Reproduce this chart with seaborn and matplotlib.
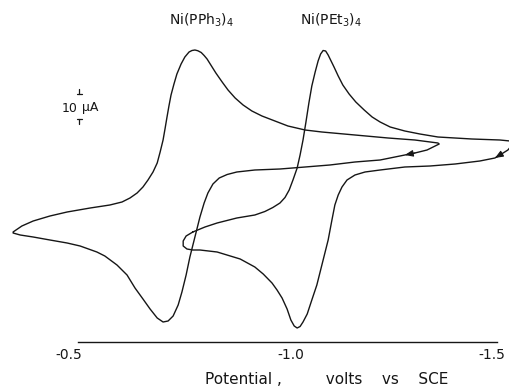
import pandas as pd
import matplotlib
matplotlib.use("Agg")
import matplotlib.pyplot as plt
from matplotlib.transforms import ScaledTranslation
import seaborn as sns

# ---- Ni(PPh3)4 : sweep toward negative potential, then return sweep ----
pph3_fwd_E = [-0.345, -0.366, -0.393, -0.433, -0.474, -0.529, -0.576, -0.605,
              -0.624, -0.641, -0.655, -0.667, -0.679, -0.689, -0.696, -0.703,
              -0.708, -0.712, -0.717, -0.722, -0.729, -0.736, -0.746, -0.755,
              -0.765, -0.772, -0.779, -0.786, -0.794, -0.801, -0.808, -0.817,
              -0.829, -0.844, -0.858, -0.875, -0.894, -0.915, -0.939, -0.970,
              -1.001, -1.042, -1.082, -1.161, -1.240, -1.304, -1.359]
pph3_fwd_i = [-12.8, -10.4, -8.4, -6.4, -4.8, -3.2, -2.0, -0.8,
              0.8, 2.8, 5.2, 8.0, 11.2, 14.8, 19.2, 24.0,
              28.8, 32.8, 37.6, 42.0, 46.4, 50.4, 54.4, 57.2,
              59.2, 59.8, 60.0, 59.7, 59.0, 57.8, 56.4, 54.0,
              50.8, 47.2, 44.0, 40.8, 38.0, 35.6, 33.6, 31.6,
              29.6, 28.0, 27.2, 26.0, 24.8, 24.0, 22.8]
pph3_rev_E = [-1.362, -1.333, -1.304, -1.280, -1.221, -1.161, -1.101, -1.042,
              -0.982, -0.922, -0.879, -0.856, -0.837, -0.822, -0.810, -0.801,
              -0.791, -0.779, -0.767, -0.758, -0.748, -0.739, -0.727, -0.715,
              -0.703, -0.689, -0.672, -0.655, -0.636, -0.617, -0.593, -0.564,
              -0.545, -0.505, -0.474, -0.433, -0.393, -0.362, -0.345]
pph3_rev_i = [22.4, 20.0, 18.8, 18.0, 16.0, 15.2, 14.0, 13.2,
              12.4, 12.0, 11.2, 10.2, 8.8, 6.4, 2.8, -1.2,
              -6.8, -14.8, -22.8, -30.0, -36.8, -42.0, -46.4, -48.4,
              -48.8, -47.2, -43.6, -39.6, -35.2, -30.0, -26.0, -22.4,
              -20.8, -18.4, -17.2, -16.0, -14.8, -14.0, -13.2]

# ---- Ni(PEt3)4 ----
pet3_fwd_E = [-0.774, -0.803, -0.832, -0.879, -0.922, -0.946, -0.965, -0.982,
              -0.994, -1.004, -1.013, -1.023, -1.030, -1.037, -1.044, -1.051,
              -1.058, -1.066, -1.073, -1.079, -1.085, -1.091, -1.097, -1.104,
              -1.111, -1.121, -1.132, -1.147, -1.163, -1.183, -1.202, -1.221,
              -1.245, -1.280, -1.316, -1.359, -1.440, -1.507, -1.531]
pet3_fwd_i = [-12.8, -10.8, -9.2, -7.2, -6.0, -4.6, -3.0, -1.2,
              1.0, 4.0, 8.0, 12.8, 18.0, 24.0, 31.2, 38.8,
              45.6, 51.2, 55.6, 58.4, 59.8, 59.6, 58.0, 55.6,
              53.2, 49.6, 46.0, 42.4, 39.2, 36.0, 33.2, 31.2,
              29.2, 27.6, 26.4, 25.2, 24.4, 24.0, 23.6]
pet3_rev_E = [-1.536, -1.526, -1.507, -1.495, -1.459, -1.400, -1.340, -1.280,
              -1.221, -1.185, -1.161, -1.142, -1.130, -1.121, -1.113, -1.106,
              -1.097, -1.082, -1.070, -1.058, -1.047, -1.037, -1.030, -1.023,
              -1.016, -1.008, -0.999, -0.987, -0.975, -0.963, -0.942, -0.922,
              -0.887, -0.832, -0.791, -0.774, -0.760, -0.751, -0.751, -0.758,
              -0.774]
pet3_rev_i = [22.0, 20.0, 18.0, 16.8, 15.6, 14.4, 13.6, 13.2,
              12.0, 11.2, 10.0, 8.0, 5.2, 2.0, -2.0, -8.0,
              -16.0, -26.0, -34.0, -40.0, -45.6, -48.8, -50.6, -51.2,
              -50.4, -48.0, -43.6, -39.2, -36.0, -33.2, -29.6, -26.8,
              -23.6, -20.8, -20.0, -20.0, -19.6, -18.4, -16.4, -14.4,
              -12.8]

compound_labels = ["Ni(PPh$_3$)$_4$", "Ni(PEt$_3$)$_4$"]
label_E = [-0.794, -1.105]
tick_E = [-0.5, -1.0, -1.5]
tick_text = ["-0.5", "-1.0", "-1.5"]
scale_uA = 10

sns.set_style("white")
plt.rcParams["font.family"] = ["DejaVu Sans"]
plt.rcParams["mathtext.default"] = "regular"

INK = "#161616"
fig = plt.figure(figsize=(5.1, 3.9), dpi=100)
ax = fig.add_axes([0, 0, 1, 1])

for fE, fi, rE, ri in [(pph3_fwd_E, pph3_fwd_i, pph3_rev_E, pph3_rev_i),
                       (pet3_fwd_E, pet3_fwd_i, pet3_rev_E, pet3_rev_i)]:
    df = pd.DataFrame({"E": fE + rE, "i": fi + ri})
    sns.lineplot(data=df, x="E", y="i", sort=False, estimator=None,
                 color=INK, lw=1.0, solid_joinstyle="round", ax=ax)
    # direction arrow on the return sweep
    k = 3
    ax.annotate("", xy=(rE[k], ri[k]), xytext=(rE[k - 1], ri[k - 1]),
                arrowprops=dict(arrowstyle="-|>,head_length=0.55,head_width=0.22",
                                color=INK, lw=0.8, shrinkA=0, shrinkB=0,
                                mutation_scale=9))

ax.set_xlim(-0.3138, -1.531)
ax.set_ylim(-76, 80)

# compound names over their anodic peaks
for txt, e in zip(compound_labels, label_E):
    ax.text(e, 72, txt, ha="center", va="center", fontsize=10, color=INK)

# current scale bar
bar_E = -0.503
bar_top = 42.4
bar_bot = bar_top - scale_uA
ax.plot([bar_E - 0.006, bar_E + 0.006], [bar_top, bar_top], color=INK, lw=0.9)
ax.plot([bar_E, bar_E], [bar_top, bar_top + 2], color=INK, lw=0.9)
ax.plot([bar_E - 0.006, bar_E + 0.006], [bar_bot, bar_bot], color=INK, lw=0.9)
ax.plot([bar_E, bar_E], [bar_bot, bar_bot - 2], color=INK, lw=0.9)
ax.text(-0.500, 36.8, "10", ha="right", va="center", fontsize=9, color=INK)
ax.text(-0.5095, 36.8, "\u03bcA", ha="left", va="center", fontsize=9, color=INK)

# potential axis
for s in ["left", "right", "top"]:
    ax.spines[s].set_visible(False)
ax.spines["bottom"].set_position(("data", -56.8))
ax.spines["bottom"].set_bounds(-0.5, -1.5)
ax.spines["bottom"].set_color(INK)
ax.spines["bottom"].set_linewidth(1.0)
ax.set_yticks([])
ax.set_ylabel("")
ax.set_xticks(tick_E)
ax.set_xticklabels(tick_text)
ax.tick_params(axis="x", direction="in", length=5, width=1.0, pad=4,
               labelsize=10, colors=INK)
ax.xaxis.get_major_ticks()[1].tick1line.set_visible(False)
for lab, dx in zip(ax.get_xticklabels(), [-9, 3, -5]):
    lab.set_transform(lab.get_transform() + ScaledTranslation(dx / 100, 0, fig.dpi_scale_trans))

ax.set_xlabel("Potential ,         volts    vs    SCE", fontsize=11, color=INK)
ax.xaxis.set_label_coords(0.641, 0.045)

fig.savefig("out.png", dpi=100)
